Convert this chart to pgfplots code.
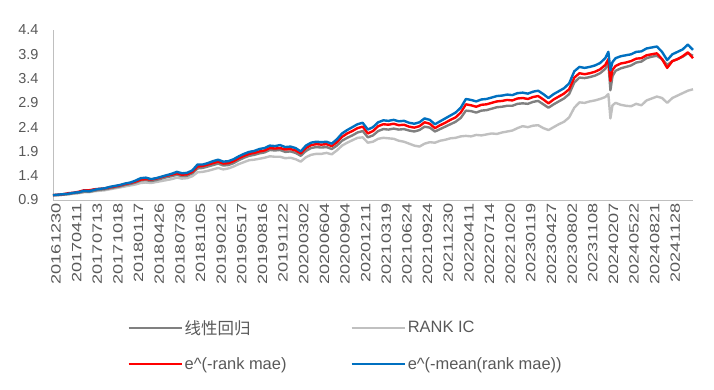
\documentclass[border=0pt]{standalone}
\usepackage{pgfplots}
\pgfplotsset{compat=1.18}
\usepackage{pgfplotstable}
\usepackage{graphicx}
\usepackage{fontspec}
\setmainfont{Liberation Sans}
\newfontfamily\cjk{Noto Sans CJK SC}
\definecolor{cblue}{HTML}{0070C0}
\definecolor{cred}{HTML}{FF0000}
\definecolor{cdgray}{HTML}{808080}
\definecolor{clgray}{HTML}{C0C0C0}
\definecolor{ctext}{HTML}{595959}
\definecolor{caxis}{HTML}{BFBFBF}
\newcommand\sx[1]{\scalebox{1.35}[1]{#1}}

\pgfplotstableread{
x y
0.00 1.00
0.25 1.01
0.50 1.02
0.75 1.03
1.00 1.05
1.25 1.06
1.50 1.09
1.75 1.08
2.00 1.11
2.25 1.13
2.50 1.14
2.75 1.17
3.00 1.19
3.25 1.21
3.50 1.24
3.75 1.26
4.00 1.30
4.25 1.35
4.50 1.36
4.75 1.33
5.00 1.35
5.25 1.38
5.50 1.41
5.75 1.44
6.00 1.48
6.25 1.45
6.50 1.46
6.75 1.51
7.00 1.63
7.25 1.63
7.50 1.66
7.75 1.70
8.00 1.73
8.25 1.69
8.50 1.70
8.75 1.74
9.00 1.80
9.25 1.85
9.50 1.89
9.75 1.91
10.00 1.95
10.25 1.97
10.50 2.02
10.75 2.01
11.00 2.03
11.25 1.99
11.50 2.00
11.75 1.97
12.00 1.90
12.25 2.02
12.50 2.08
12.75 2.10
13.00 2.09
13.25 2.10
13.50 2.06
13.75 2.15
14.00 2.27
14.25 2.34
14.50 2.40
14.75 2.46
15.00 2.49
15.25 2.35
15.50 2.40
15.75 2.50
16.00 2.54
16.25 2.53
16.50 2.55
16.75 2.52
17.00 2.53
17.25 2.49
17.50 2.47
17.75 2.50
18.00 2.58
18.25 2.55
18.50 2.46
18.75 2.52
19.00 2.58
19.25 2.64
19.50 2.70
19.75 2.80
20.00 2.98
20.25 2.96
20.50 2.93
20.75 2.97
21.00 2.98
21.25 3.01
21.50 3.04
21.75 3.05
22.00 3.07
22.25 3.06
22.50 3.10
22.75 3.11
23.00 3.09
23.25 3.13
23.50 3.15
23.75 3.08
24.00 3.00
24.25 3.08
24.50 3.14
24.75 3.20
25.00 3.30
25.25 3.55
25.50 3.64
25.75 3.62
26.00 3.64
26.25 3.67
26.50 3.72
26.75 3.82
26.90 3.95
27.00 3.57
27.10 3.74
27.25 3.82
27.50 3.86
27.75 3.88
28.00 3.90
28.25 3.95
28.50 3.96
28.75 4.02
29.00 4.04
29.25 4.06
29.50 3.95
29.75 3.78
30.00 3.90
30.25 3.95
30.50 4.00
30.75 4.10
31.00 3.99
}\blue

\pgfplotstableread{
x y
0.00 1.00
0.25 1.01
0.50 1.02
0.75 1.04
1.00 1.05
1.25 1.07
1.50 1.10
1.75 1.10
2.00 1.12
2.25 1.13
2.50 1.14
2.75 1.16
3.00 1.18
3.25 1.20
3.50 1.23
3.75 1.25
4.00 1.28
4.25 1.32
4.50 1.33
4.75 1.32
5.00 1.34
5.25 1.37
5.50 1.40
5.75 1.42
6.00 1.45
6.25 1.42
6.50 1.43
6.75 1.48
7.00 1.59
7.25 1.60
7.50 1.63
7.75 1.66
8.00 1.69
8.25 1.65
8.50 1.66
8.75 1.70
9.00 1.76
9.25 1.81
9.50 1.85
9.75 1.87
10.00 1.90
10.25 1.92
10.50 1.97
10.75 1.96
11.00 1.97
11.25 1.94
11.50 1.95
11.75 1.92
12.00 1.86
12.25 1.97
12.50 2.03
12.75 2.05
13.00 2.04
13.25 2.05
13.50 2.01
13.75 2.09
14.00 2.20
14.25 2.27
14.50 2.32
14.75 2.38
15.00 2.41
15.25 2.27
15.50 2.32
15.75 2.42
16.00 2.46
16.25 2.45
16.50 2.47
16.75 2.44
17.00 2.45
17.25 2.41
17.50 2.39
17.75 2.42
18.00 2.50
18.25 2.47
18.50 2.38
18.75 2.44
19.00 2.49
19.25 2.55
19.50 2.60
19.75 2.70
20.00 2.87
20.25 2.85
20.50 2.82
20.75 2.86
21.00 2.87
21.25 2.90
21.50 2.93
21.75 2.94
22.00 2.96
22.25 2.95
22.50 2.99
22.75 3.00
23.00 2.98
23.25 3.02
23.50 3.04
23.75 2.97
24.00 2.89
24.25 2.97
24.50 3.03
24.75 3.09
25.00 3.18
25.25 3.42
25.50 3.51
25.75 3.49
26.00 3.51
26.25 3.54
26.50 3.59
26.75 3.68
26.90 3.80
27.00 3.35
27.10 3.58
27.25 3.66
27.50 3.71
27.75 3.73
28.00 3.76
28.25 3.81
28.50 3.82
28.75 3.88
29.00 3.90
29.25 3.92
29.50 3.80
29.75 3.62
30.00 3.76
30.25 3.80
30.50 3.86
30.75 3.94
31.00 3.82
}\red

\pgfplotstableread{
x y
0.00 1.00
0.25 1.00
0.50 1.01
0.75 1.02
1.00 1.04
1.25 1.05
1.50 1.07
1.75 1.07
2.00 1.09
2.25 1.11
2.50 1.12
2.75 1.14
3.00 1.16
3.25 1.18
3.50 1.21
3.75 1.23
4.00 1.26
4.25 1.30
4.50 1.31
4.75 1.29
5.00 1.31
5.25 1.34
5.50 1.37
5.75 1.39
6.00 1.42
6.25 1.39
6.50 1.40
6.75 1.45
7.00 1.55
7.25 1.56
7.50 1.59
7.75 1.62
8.00 1.65
8.25 1.61
8.50 1.62
8.75 1.66
9.00 1.72
9.25 1.77
9.50 1.81
9.75 1.83
10.00 1.86
10.25 1.88
10.50 1.93
10.75 1.92
11.00 1.93
11.25 1.89
11.50 1.90
11.75 1.87
12.00 1.81
12.25 1.91
12.50 1.97
12.75 1.99
13.00 1.98
13.25 1.99
13.50 1.95
13.75 2.02
14.00 2.12
14.25 2.18
14.50 2.23
14.75 2.29
15.00 2.32
15.25 2.19
15.50 2.23
15.75 2.32
16.00 2.36
16.25 2.35
16.50 2.37
16.75 2.35
17.00 2.36
17.25 2.33
17.50 2.31
17.75 2.34
18.00 2.41
18.25 2.39
18.50 2.31
18.75 2.36
19.00 2.41
19.25 2.46
19.50 2.51
19.75 2.59
20.00 2.74
20.25 2.73
20.50 2.70
20.75 2.74
21.00 2.75
21.25 2.78
21.50 2.81
21.75 2.82
22.00 2.84
22.25 2.84
22.50 2.88
22.75 2.89
23.00 2.88
23.25 2.92
23.50 2.94
23.75 2.87
24.00 2.80
24.25 2.87
24.50 2.93
24.75 2.99
25.00 3.08
25.25 3.32
25.50 3.42
25.75 3.41
26.00 3.43
26.25 3.46
26.50 3.51
26.75 3.60
26.90 3.72
27.00 3.16
27.10 3.45
27.25 3.56
27.50 3.61
27.75 3.64
28.00 3.67
28.25 3.73
28.50 3.75
28.75 3.82
29.00 3.85
29.25 3.87
29.50 3.80
29.75 3.68
30.00 3.76
30.25 3.80
30.50 3.85
30.75 3.92
31.00 3.87
}\dgray

\pgfplotstableread{
x y
0.00 1.00
0.25 1.00
0.50 1.01
0.75 1.02
1.00 1.03
1.25 1.04
1.50 1.06
1.75 1.06
2.00 1.08
2.25 1.09
2.50 1.10
2.75 1.12
3.00 1.14
3.25 1.16
3.50 1.18
3.75 1.20
4.00 1.22
4.25 1.25
4.50 1.26
4.75 1.25
5.00 1.27
5.25 1.29
5.50 1.31
5.75 1.33
6.00 1.36
6.25 1.34
6.50 1.35
6.75 1.39
7.00 1.47
7.25 1.48
7.50 1.50
7.75 1.53
8.00 1.56
8.25 1.53
8.50 1.55
8.75 1.59
9.00 1.64
9.25 1.68
9.50 1.72
9.75 1.73
10.00 1.75
10.25 1.77
10.50 1.80
10.75 1.79
11.00 1.79
11.25 1.76
11.50 1.77
11.75 1.74
12.00 1.69
12.25 1.78
12.50 1.83
12.75 1.85
13.00 1.85
13.25 1.87
13.50 1.84
13.75 1.92
14.00 2.02
14.25 2.08
14.50 2.13
14.75 2.18
15.00 2.19
15.25 2.08
15.50 2.10
15.75 2.16
16.00 2.18
16.25 2.17
16.50 2.16
16.75 2.12
17.00 2.10
17.25 2.06
17.50 2.02
17.75 2.00
18.00 2.06
18.25 2.09
18.50 2.08
18.75 2.12
19.00 2.14
19.25 2.17
19.50 2.18
19.75 2.21
20.00 2.22
20.25 2.21
20.50 2.24
20.75 2.23
21.00 2.25
21.25 2.27
21.50 2.26
21.75 2.29
22.00 2.31
22.25 2.33
22.50 2.38
22.75 2.42
23.00 2.40
23.25 2.43
23.50 2.44
23.75 2.38
24.00 2.34
24.25 2.40
24.50 2.46
24.75 2.51
25.00 2.60
25.25 2.80
25.50 2.91
25.75 2.90
26.00 2.93
26.25 2.95
26.50 2.98
26.75 3.02
26.90 3.08
27.00 2.58
27.10 2.85
27.25 2.90
27.50 2.86
27.75 2.84
28.00 2.83
28.25 2.88
28.50 2.85
28.75 2.95
29.00 2.99
29.25 3.03
29.50 3.00
29.75 2.90
30.00 3.00
30.25 3.05
30.50 3.10
30.75 3.15
31.00 3.18
}\lgray

\begin{document}
\begin{tikzpicture}
\useasboundingbox (-53bp,-190bp) rectangle (661bp,200bp);
\begin{axis}[
  at={(0,0)}, anchor=south west,
  scale only axis,
  width=640bp, height=170bp,
  xmin=0, xmax=31, ymin=0.9, ymax=4.4,
  axis lines*=left,
  axis line style={caxis, line width=0.8bp, -},
  tick style={draw=none},
  major tick length=0pt,
  xtick={0,1,...,30},
  xticklabels={\sx{20161230},\sx{20170411},\sx{20170713},\sx{20171018},\sx{20180117},\sx{20180426},\sx{20180730},\sx{20181105},\sx{20190212},\sx{20190517},\sx{20190816},\sx{20191122},\sx{20200302},\sx{20200604},\sx{20200904},\sx{20201211},\sx{20210319},\sx{20210624},\sx{20210924},\sx{20211230},\sx{20220411},\sx{20220714},\sx{20221020},\sx{20230119},\sx{20230427},\sx{20230802},\sx{20231108},\sx{20240207},\sx{20240522},\sx{20240821},\sx{20241128}},
  xticklabel style={rotate=90, anchor=east, font=\fontsize{13.5}{14}\selectfont, text=ctext, xshift=0bp, yshift=-3bp},
  ytick={0.9,1.4,1.9,2.4,2.9,3.4,3.9,4.4},
  yticklabel style={font=\fontsize{14.5}{16}\selectfont, text=ctext, /pgf/number format/fixed, /pgf/number format/fixed zerofill, /pgf/number format/precision=1, /pgf/number format/assume math mode=true, xshift=-11bp},
  legend columns=2,
  legend cell align=left,
  legend style={at={(axis description cs:0.116,-0.70)}, anchor=north west, draw=none, fill=none, inner sep=0pt,
    font=\fontsize{16.5}{18}\selectfont, text=ctext,
    row sep=20bp,
    /tikz/every even column/.append style={column sep=62bp},
    nodes={inner ysep=1bp}},
  legend image code/.code={\draw[#1] (0bp,0bp) -- (53bp,0bp);},
  every axis plot/.append style={line width=2.4bp, line join=round},
  clip=false,
]
\addlegendimage{cdgray, line width=2.3bp}
\addlegendentry{{\cjk 线性回归}}
\addlegendimage{clgray, line width=2.3bp}
\addlegendentry{RANK IC}
\addlegendimage{cred, line width=2.3bp}
\addlegendentry{e\textasciicircum(-rank mae)}
\addlegendimage{cblue, line width=2.3bp}
\addlegendentry{e\textasciicircum(-mean(rank mae))}
\addplot[clgray, forget plot] table[x=x,y=y] {\lgray};
\addplot[cdgray, forget plot] table[x=x,y=y] {\dgray};
\addplot[cred, forget plot] table[x=x,y=y] {\red};
\addplot[cblue, forget plot] table[x=x,y=y] {\blue};
\end{axis}
\end{tikzpicture}
\end{document}
